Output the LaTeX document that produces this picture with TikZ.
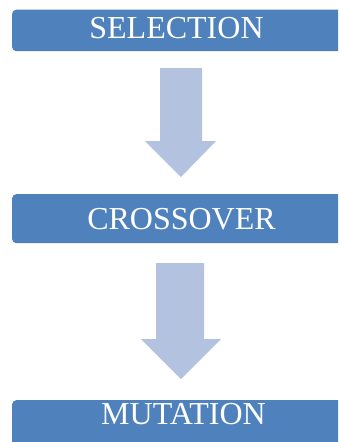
\documentclass[tikz,border=0pt]{standalone}
\usepackage{fontspec}
\setmainfont{Liberation Serif}
\definecolor{boxblue}{RGB}{79,129,189}
\definecolor{arrowblue}{RGB}{179,195,223}
\begin{document}
\begin{tikzpicture}[x=1pt,y=-1pt,
  stagebox/.style={fill=boxblue, draw=none, rounded corners=4pt, anchor=north west, minimum width=345pt, inner sep=0pt},
  stagetext/.style={text=white, font=\fontsize{32}{32}\selectfont, inner sep=0pt, anchor=center},
  blockarrow/.style={fill=arrowblue, draw=none}]
\useasboundingbox (0,0) rectangle (338,442);
\clip (0,0) rectangle (338,442);
\node[stagebox, minimum height=41.5pt] (selbox) at (12,9.5) {};
\node[stagebox, minimum height=49pt] (crossbox) at (12,194) {};
\node[stagebox, minimum height=60pt] (mutbox) at (12,400) {};
\node[stagetext] (sel) at (176.5,28.5) {SELECTION};
\node[stagetext] (cross) at (181.5,219) {CROSSOVER};
\node[stagetext] (mut) at (183.5,414.5) {MUTATION};
\fill[blockarrow] (160,68) -- (202,68) -- (202,141) -- (216,141) -- (181,177) -- (145,141) -- (160,141) -- cycle;
\fill[blockarrow] (156,263) -- (204,263) -- (204,339) -- (221,339) -- (181,379) -- (141,339) -- (156,339) -- cycle;
\end{tikzpicture}
\end{document}
